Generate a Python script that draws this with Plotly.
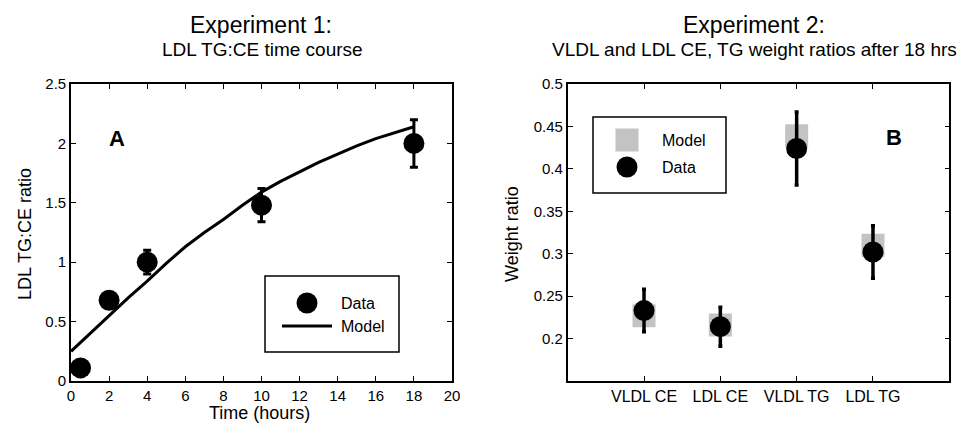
import plotly.graph_objects as go

# ---------------- data ----------------
# Panel A: LDL TG:CE time course
time_data = [0.5, 2, 4, 10, 18]
ratio_data = [0.11, 0.68, 1.00, 1.48, 2.00]
ratio_err = [0.0, 0.0, 0.10, 0.14, 0.20]

time_model = [0, 1, 2, 3, 4, 5, 6, 7, 8, 9, 10, 11, 12, 13, 14, 15, 16, 17, 18]
ratio_model = [0.25, 0.40, 0.55, 0.70, 0.84, 0.99, 1.13, 1.25, 1.36, 1.48,
               1.59, 1.68, 1.76, 1.84, 1.91, 1.98, 2.04, 2.09, 2.14]

# Panel B: weight ratios after 18 hrs
categories = ["VLDL CE", "LDL CE", "VLDL TG", "LDL TG"]
cat_pos = [1, 2, 3, 4]
weight_data = [0.233, 0.214, 0.424, 0.302]
weight_err = [0.025, 0.023, 0.043, 0.031]
weight_model = [0.227, 0.216, 0.439, 0.310]

xA_ticks = [0, 2, 4, 6, 8, 10, 12, 14, 16, 18, 20]
yA_ticks = [0, 0.5, 1, 1.5, 2, 2.5]
yA_text = ["0", "0.5", "1", "1.5", "2", "2.5"]
yB_ticks = [0.2, 0.25, 0.3, 0.35, 0.4, 0.45, 0.5]
yB_text = ["0.2", "0.25", "0.3", "0.35", "0.4", "0.45", "0.5"]

# ---------------- figure ----------------
FONT = "Liberation Sans, Arial, sans-serif"
W, H = 969, 430

def px(x):
    return x / W

def py(y):
    return 1 - y / H

fig = go.Figure()

# Panel A
fig.add_trace(go.Scatter(
    x=time_model, y=ratio_model, mode="lines",
    line=dict(color="black", width=3), xaxis="x", yaxis="y",
    showlegend=False, hoverinfo="skip"))
fig.add_trace(go.Scatter(
    x=time_data, y=ratio_data, mode="markers",
    marker=dict(color="black", size=21),
    error_y=dict(type="data", array=ratio_err, color="black", thickness=3, width=4),
    xaxis="x", yaxis="y", showlegend=False))

# Panel B
fig.add_trace(go.Scatter(
    x=cat_pos, y=weight_model, mode="markers",
    marker=dict(color="#c3c3c3", size=23, symbol="square", line=dict(width=0)),
    xaxis="x2", yaxis="y2", showlegend=False))
fig.add_trace(go.Scatter(
    x=cat_pos, y=weight_data, mode="markers",
    marker=dict(color="black", size=21),
    error_y=dict(type="data", array=weight_err, color="black", thickness=3.5, width=2),
    xaxis="x2", yaxis="y2", showlegend=False))

axis_common = dict(
    showline=True, linecolor="black", linewidth=1.6, mirror="ticks",
    ticks="inside", ticklen=5, tickwidth=1.2, tickcolor="black",
    showgrid=False, zeroline=False, automargin=False,
    tickfont=dict(family=FONT, size=15, color="black"),
)

yA_dom = [py(381), py(84)]
fig.update_layout(
    width=W, height=H,
    margin=dict(l=0, r=0, t=0, b=0, pad=0, autoexpand=False),
    paper_bgcolor="white", plot_bgcolor="white",
    xaxis=dict(domain=[px(71), px(452)], range=[0, 20], tickvals=xA_ticks,
               anchor="y", **axis_common),
    yaxis=dict(domain=yA_dom, range=[0, 2.5], tickvals=yA_ticks, ticktext=yA_text,
               anchor="x", **axis_common),
    xaxis2=dict(domain=[px(567.7), px(949.3)], range=[0, 5], tickvals=cat_pos,
                ticktext=categories, anchor="y2",
                **{**axis_common, "tickfont": dict(family=FONT, size=16, color="black")}),
    yaxis2=dict(domain=yA_dom, range=[0.15, 0.5], tickvals=yB_ticks, ticktext=yB_text,
                anchor="x2", **axis_common),
    showlegend=False,
)

ann = []

def text(x, y, s, size, bold=False, xanchor="center", angle=0):
    ann.append(dict(
        x=px(x), y=py(y), xref="paper", yref="paper", text=(f"<b>{s}</b>" if bold else s),
        showarrow=False, xanchor=xanchor, yanchor="middle", textangle=angle,
        font=dict(family=FONT, size=size, color="black")))

# Titles
text(261, 25, "Experiment 1:", 23)
text(262, 50, "LDL TG:CE time course", 19)
text(754, 25, "Experiment 2:", 23)
text(754, 49, "VLDL and LDL CE, TG weight ratios after 18 hrs", 19)

# Axis titles
text(259, 413, "Time (hours)", 18)
text(25, 234, "LDL TG:CE ratio", 18, angle=-90)
text(512, 234, "Weight ratio", 18, angle=-90)

# Panel letters
text(117, 138, "A", 22, bold=True)
text(894, 137, "B", 22, bold=True)

# Legend texts
text(339, 303, "Data", 16, xanchor="left")
text(339, 326, "Model", 16, xanchor="left")
text(660, 140, "Model", 16, xanchor="left")
text(660, 167, "Data", 16, xanchor="left")

shapes = []
# Legend boxes
shapes.append(dict(type="rect", xref="paper", yref="paper",
                   x0=px(265), x1=px(399), y0=py(352), y1=py(276),
                   line=dict(color="black", width=1.5), fillcolor="rgba(0,0,0,0)"))
shapes.append(dict(type="rect", xref="paper", yref="paper",
                   x0=px(593), x1=px(726), y0=py(193), y1=py(117),
                   line=dict(color="black", width=1.5), fillcolor="rgba(0,0,0,0)"))
# Legend swatches
shapes.append(dict(type="circle", xref="paper", yref="paper",
                   xsizemode="pixel", ysizemode="pixel",
                   xanchor=px(307), yanchor=py(303), x0=-10.5, x1=10.5, y0=-10.5, y1=10.5,
                   fillcolor="black", line=dict(width=0)))
shapes.append(dict(type="line", xref="paper", yref="paper",
                   x0=px(282), x1=px(332), y0=py(326), y1=py(326),
                   line=dict(color="black", width=3)))
shapes.append(dict(type="rect", xref="paper", yref="paper",
                   xsizemode="pixel", ysizemode="pixel",
                   xanchor=px(627), yanchor=py(140), x0=-11.5, x1=11.5, y0=-11.5, y1=11.5,
                   fillcolor="#c3c3c3", line=dict(width=0)))
shapes.append(dict(type="circle", xref="paper", yref="paper",
                   xsizemode="pixel", ysizemode="pixel",
                   xanchor=px(627), yanchor=py(167), x0=-10.5, x1=10.5, y0=-10.5, y1=10.5,
                   fillcolor="black", line=dict(width=0)))

fig.update_layout(annotations=ann, shapes=shapes)

fig.write_html("out.html", config={"displayModeBar": False},
               post_script="document.body.style.margin='0px';")
